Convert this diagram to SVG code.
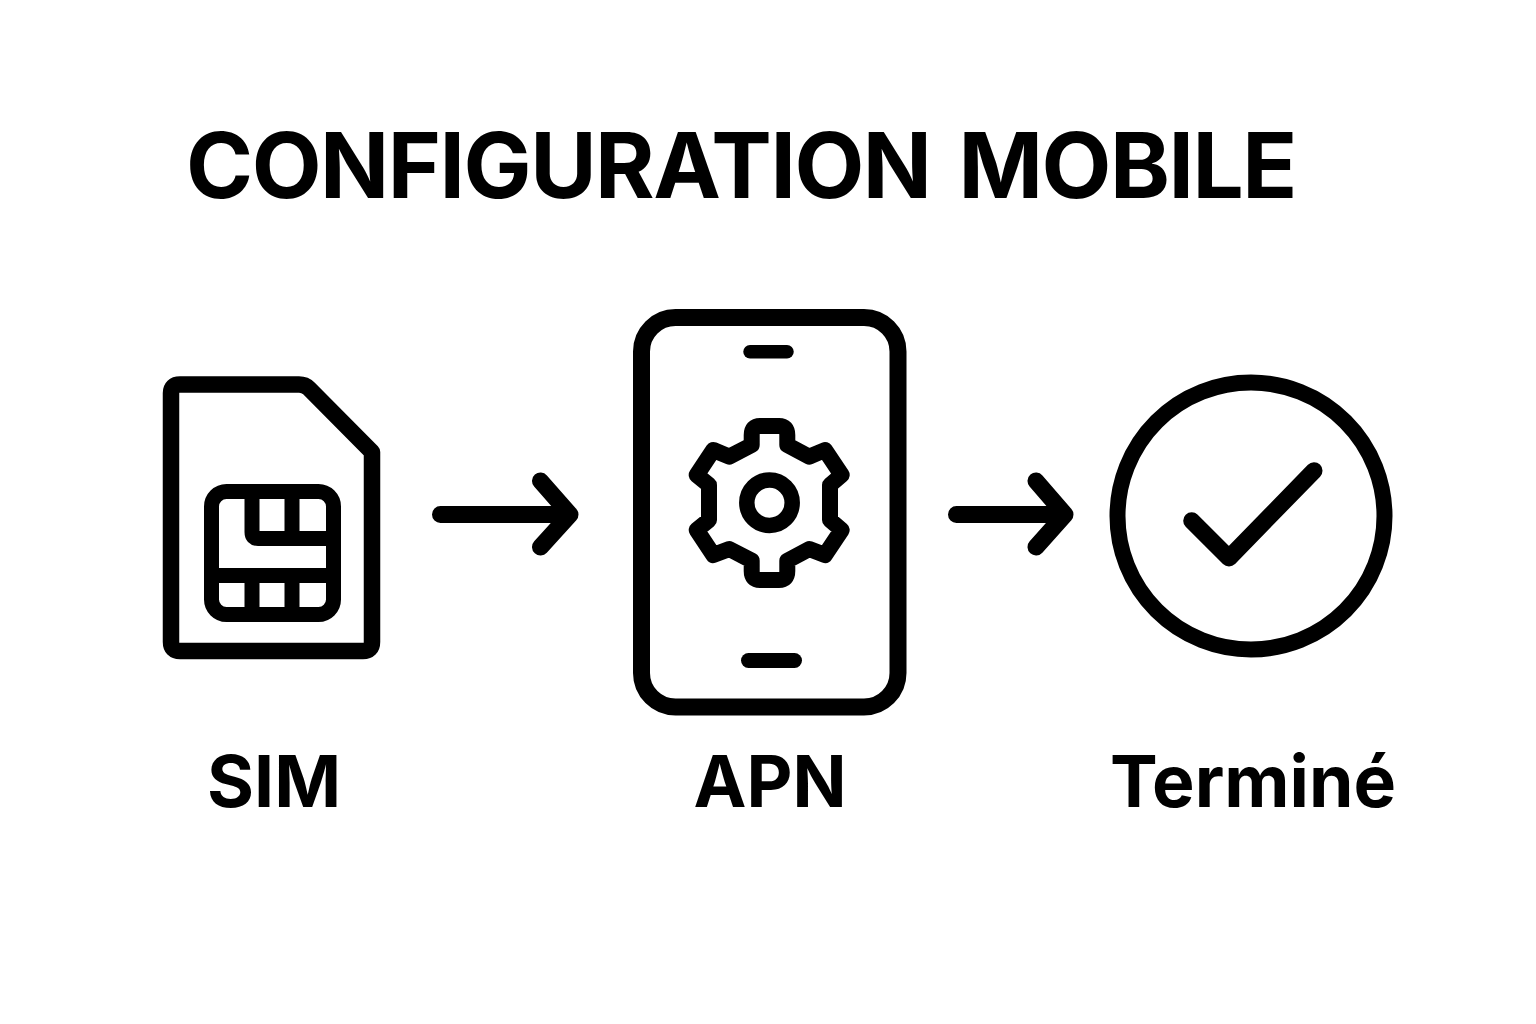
<svg xmlns="http://www.w3.org/2000/svg" width="1536" height="1024" viewBox="0 0 1536 1024">
<style>
.s{fill:none;stroke:#000;stroke-linecap:round;stroke-linejoin:round}
text{font-family:"Inter","Liberation Sans",sans-serif;font-weight:650;fill:#000;text-anchor:middle}
.l{font-size:72px}
</style>
<rect width="1536" height="1024" fill="#fff"/>
<text id="title" x="741" y="198" font-size="91" letter-spacing="-1.500" word-spacing="8" textLength="1110" lengthAdjust="spacingAndGlyphs">CONFIGURATION MOBILE</text>
<g id="sim">
<path class="s" stroke-width="16.500" d="M171 393Q171 384.500 180 384.500H299Q305 384.500 309 388.500L372 452V642Q372 651 363 651H180Q171 651 171 642Z"/>
<rect class="s" stroke-width="15" x="211.500" y="491.500" width="122" height="123" rx="15"/>
<path class="s" stroke-width="15" d="M252 491.500V532Q252 538.500 258 538.500H333M292 491.500V538.500M211.500 575.500H333M252 575.500V614M292 575.500V614"/>
<text class="l" x="274" y="807" textLength="134" lengthAdjust="spacingAndGlyphs">SIM</text>
</g>
<g id="apn">
<rect class="s" stroke-width="17" x="641.500" y="317.500" width="256.500" height="389.500" rx="34"/>
<path class="s" stroke-width="13.500" d="M750 351.700H787"/>
<path class="s" stroke-width="15" d="M748.500 660.500H794.500"/>
<path class="s" stroke-width="16" d="M751.700 445V435Q751.700 426 760 426H779Q787.300 426 787.300 435V445L809.300 456.700L825 450L841.700 475L830 485V520L841.700 530L825 555L809.300 549L787.300 560.700V571Q787.300 580 779 580H760Q751.700 580 751.700 571V560.700L729.300 549L713.300 555L696.700 530L709 520V485L696.700 475L713.300 450L729.300 456.700Z"/>
<circle class="s" stroke-width="15.500" cx="769.500" cy="502.700" r="22.700"/>
<text class="l" x="770" y="807" textLength="153" lengthAdjust="spacingAndGlyphs">APN</text>
</g>
<g id="done">
<circle class="s" stroke-width="16" cx="1251" cy="516" r="133.500"/>
<path class="s" stroke-width="17" d="M1191.700 520.700L1229 558L1314 470.700"/>
<text class="l" x="1253" y="807" textLength="286" lengthAdjust="spacingAndGlyphs">Terminé</text>
</g>
<g id="connectors">
<path class="s" stroke-width="17" d="M440.500 514.500H570M540.500 481L570 514.500L540.500 547"/>
<path class="s" stroke-width="17" d="M956.500 514.500H1065M1036 481L1065 514.500L1036 547"/>
</g>
</svg>
